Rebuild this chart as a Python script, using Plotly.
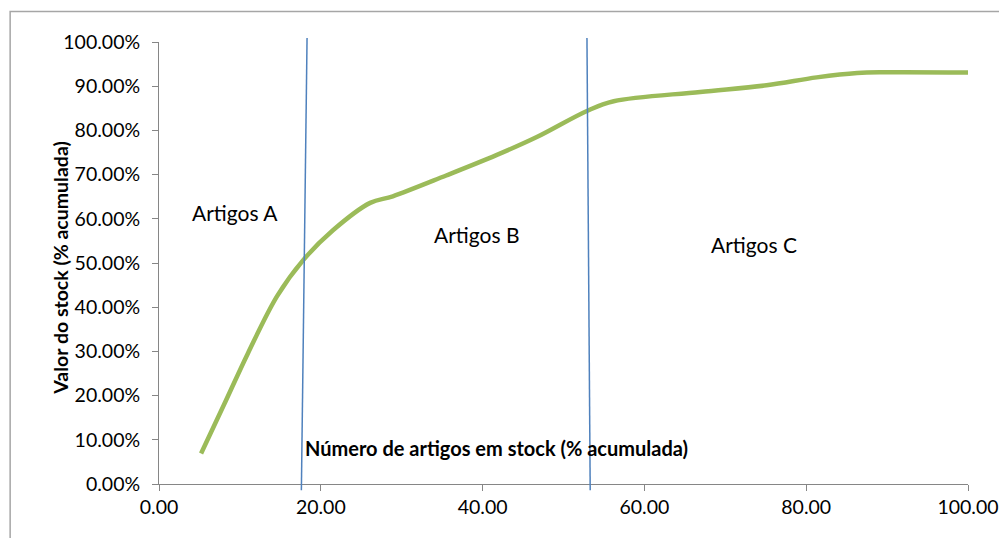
import plotly.graph_objects as go

# Cumulative share of items in stock (%) and the cumulative stock value (fraction)
artigos_pct = [5.2, 8.0, 11.0, 14.6, 17.8, 21.5, 26.1, 28.9, 35.5, 41.7, 46.7,
               52.9, 56.2, 66.9, 75.1, 81.3, 86.3, 90.0, 100.0]
valor_acum = [0.069, 0.178, 0.296, 0.425, 0.506, 0.574, 0.636, 0.651, 0.698,
              0.744, 0.785, 0.844, 0.866, 0.887, 0.902, 0.920, 0.930, 0.9315,
              0.931]

# ABC class dividers (x where each hand-drawn divider meets the bottom and the top)
fronteiras_base = [17.6, 53.3]
fronteiras_topo = [18.3, 52.9]

# Class labels and where they sit
classes = ["Artigos A", "Artigos B", "Artigos C"]
classes_x = [9.4, 39.2, 73.6]
classes_y = [0.615, 0.565, 0.542]

x_ticks = [0, 20, 40, 60, 80, 100]
y_ticks = [i / 10 for i in range(11)]

titulo_x = "Número de artigos em stock (% acumulada)"
titulo_y = "Valor do stock (% acumulada)"

FONT = "Lato, Calibri, Arial, sans-serif"
AXIS_GREY = "#868686"

fig = go.Figure()
fig.add_trace(go.Scatter(
    x=artigos_pct, y=valor_acum, mode="lines",
    line=dict(color="#9BBB59", width=4.5, shape="spline", smoothing=1.0),
    hoverinfo="x+y", showlegend=False,
))

shapes = []
for xb, xt in zip(fronteiras_base, fronteiras_topo):
    shapes.append(dict(type="line", xref="x", yref="y domain",
                       x0=xb, y0=-0.014, x1=xt, y1=1.009,
                       line=dict(color="#4F81BD", width=1.5), layer="above"))
# chart area frame
shapes.append(dict(type="rect", xref="paper", yref="paper",
                   x0=-0.184, y0=-0.3, x1=1.2, y1=1.069,
                   line=dict(color="#A6A6A6", width=1.5), layer="below"))

annotations = []
for txt, ax, ay in zip(classes, classes_x, classes_y):
    annotations.append(dict(text=txt, x=ax, y=ay, xref="x", yref="y",
                            showarrow=False, font=dict(family=FONT, size=21, color="#000")))
annotations.append(dict(text="<b>" + titulo_x + "</b>", x=0.417, y=0.05,
                        xref="paper", yref="paper", showarrow=False,
                        font=dict(family=FONT, size=20, color="#000")))
annotations.append(dict(text="<b>" + titulo_y + "</b>", x=-0.138, y=0.489,
                        xref="paper", yref="paper", showarrow=False, textangle=-90,
                        font=dict(family=FONT, size=19.5, color="#000")))

fig.update_layout(
    width=999, height=538,
    margin=dict(l=159, r=31, t=42, b=54, autoexpand=False),
    paper_bgcolor="white", plot_bgcolor="white",
    font=dict(family=FONT, size=19, color="#000"),
    shapes=shapes, annotations=annotations,
    xaxis=dict(range=[0, 100], tickvals=x_ticks, tickformat=".2f",
               automargin=False,
               showgrid=False, zeroline=False, showline=True,
               linecolor=AXIS_GREY, linewidth=1, ticks="outside",
               ticklen=6, tickcolor=AXIS_GREY, tickwidth=1,
               tickfont=dict(family=FONT, size=19.5, color="#000")),
    yaxis=dict(range=[0, 1], tickvals=y_ticks, tickformat=".2%",
               automargin=False,
               showgrid=False, zeroline=False, showline=True,
               linecolor=AXIS_GREY, linewidth=1, ticks="outside",
               ticklen=6, tickcolor=AXIS_GREY, tickwidth=1,
               ticklabelstandoff=8,
               tickfont=dict(family=FONT, size=19.5, color="#000")),
)

fig.write_html("out.html")
